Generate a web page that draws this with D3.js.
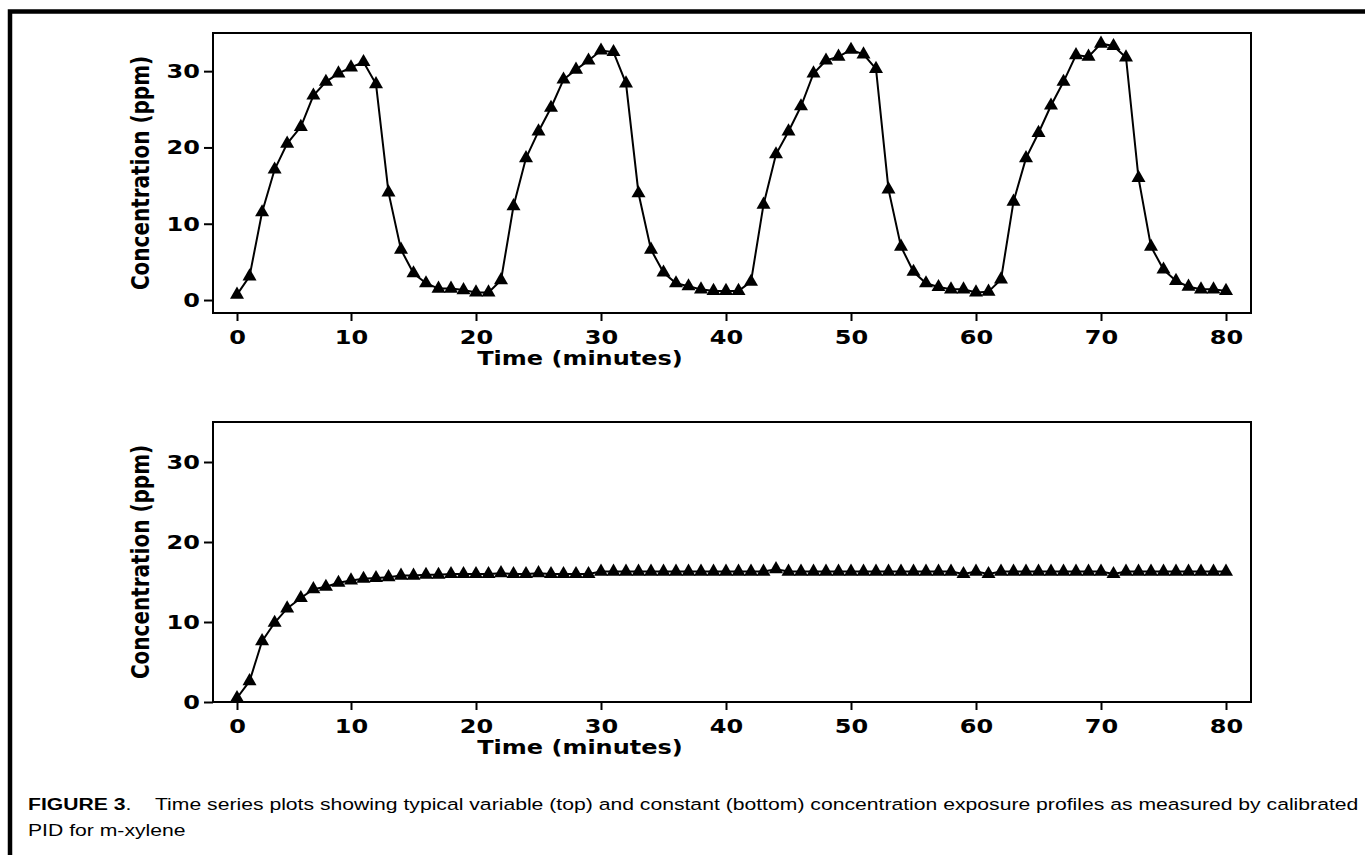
<!DOCTYPE html>
<html>
<head>
<meta charset="utf-8">
<script src="https://cdn.jsdelivr.net/npm/d3@7"></script>
<style>
  body { margin: 0; background: #fff; }
  svg { display: block; }
</style>
</head>
<body>
<svg width="1365" height="855"></svg>
<script>
// sample times (minutes)
var minutes = [0, 1.1, 2.2, 3.3, 4.4, 5.6, 6.7, 7.8, 8.9,
  10, 11, 12, 13, 14, 15, 16, 17, 18, 19, 20, 21, 22, 23, 24, 25, 26, 27, 28, 29, 30,
  31, 32, 33, 34, 35, 36, 37, 38, 39, 40, 41, 42, 43, 44, 45, 46, 47, 48, 49, 50,
  51, 52, 53, 54, 55, 56, 57, 58, 59, 60, 61, 62, 63, 64, 65, 66, 67, 68, 69, 70,
  71, 72, 73, 74, 75, 76, 77, 78, 79, 80];

// top panel: variable exposure (ppm)
var variableConc = [0.7, 3.1, 11.5, 17.1, 20.5, 22.7, 26.8, 28.6, 29.7, 30.5,
  31.2, 28.3, 14.1, 6.6, 3.5, 2.2, 1.5, 1.5, 1.3, 1.0,
  1.0, 2.6, 12.3, 18.6, 22.1, 25.2, 28.9, 30.2, 31.4, 32.7,
  32.5, 28.4, 14.0, 6.6, 3.6, 2.2, 1.8, 1.4, 1.2, 1.2,
  1.2, 2.4, 12.5, 19.1, 22.1, 25.4, 29.7, 31.4, 31.9, 32.8,
  32.2, 30.3, 14.5, 7.0, 3.7, 2.2, 1.7, 1.4, 1.4, 1.0,
  1.1, 2.7, 12.9, 18.6, 21.9, 25.5, 28.6, 32.1, 31.9, 33.6,
  33.3, 31.8, 16.0, 7.0, 4.0, 2.5, 1.75, 1.4, 1.4, 1.2];

// bottom panel: constant exposure (ppm)
var constantConc = [0.5, 2.6, 7.6, 9.9, 11.7, 13.0, 14.1, 14.4, 14.9, 15.2,
  15.4, 15.5, 15.6, 15.8, 15.8, 15.9, 15.9, 16.0, 16.0, 16.0,
  16.0, 16.1, 16.0, 16.0, 16.1, 16.0, 16.0, 16.0, 16.0, 16.3,
  16.3, 16.3, 16.3, 16.3, 16.3, 16.3, 16.3, 16.3, 16.3, 16.3,
  16.3, 16.3, 16.3, 16.6, 16.3, 16.3, 16.3, 16.3, 16.3, 16.3,
  16.3, 16.3, 16.3, 16.3, 16.3, 16.3, 16.3, 16.3, 16.0, 16.3,
  16.0, 16.3, 16.3, 16.3, 16.3, 16.3, 16.3, 16.3, 16.3, 16.3,
  16.0, 16.3, 16.3, 16.3, 16.3, 16.3, 16.3, 16.3, 16.3, 16.3];

var xTicks = [0, 10, 20, 30, 40, 50, 60, 70, 80];
var yTicks = [0, 10, 20, 30];
var xTitle = "Time (minutes)";
var yTitle = "Concentration (ppm)";

var svg = d3.select("svg");
var axisFont = "'DejaVu Sans', Verdana, sans-serif";
var capFont = "'Liberation Sans', Arial, Helvetica, sans-serif";
var stretch = 1.2; // the source scan is a little wider than tall, text included

// outer frame (only top and left edges fall inside the picture)
svg.append("path")
  .attr("d", "M10,855V11.5H1365")
  .attr("fill", "none")
  .attr("stroke", "#000")
  .attr("stroke-width", 4.5);

// the original x axis is slightly compressed between 0 and 10
var x = d3.scaleLinear().domain([0, 10, 80]).range([237, 351, 1226]);

function boldText(sel) {
  sel.attr("fill", "#000")
    .style("font-family", axisFont)
    .style("font-weight", "bold")
    .style("font-size", "20px");
}

function panel(values, yDomain, top, bottom) {
  var y = d3.scaleLinear().domain(yDomain).range([bottom, top]);
  var g = svg.append("g");

  g.append("rect") //plot box
    .attr("x", 213)
    .attr("y", top)
    .attr("width", 1251 - 213)
    .attr("height", bottom - top)
    .attr("fill", "none")
    .attr("stroke", "#000")
    .attr("stroke-width", 2);

  var xAxis = g.append("g")
    .attr("transform", "translate(0," + bottom + ")")
    .call(d3.axisBottom(x).tickValues(xTicks).tickSize(8).tickPadding(9).tickSizeOuter(0));

  var yAxis = g.append("g")
    .attr("transform", "translate(213,0)")
    .call(d3.axisLeft(y).tickValues(yTicks).tickSize(9).tickPadding(4).tickSizeOuter(0));

  [xAxis, yAxis].forEach(function (a) {
    a.select(".domain").remove();
    a.selectAll(".tick line").attr("stroke", "#000").attr("stroke-width", 2);
    a.selectAll(".tick text")
      .call(boldText)
      .attr("transform", "scale(" + stretch + ",1)");
  });
  yAxis.selectAll(".tick text").attr("x", -13 / stretch);

  g.append("text") //x title
    .attr("transform", "translate(580," + (bottom + 52) + ") scale(" + stretch + ",1)")
    .attr("text-anchor", "middle")
    .call(boldText)
    .text(xTitle);

  g.append("text") //y title
    .attr("transform", "translate(149," + (top + bottom) / 2 + ") scale(" + stretch + ",1) rotate(-90)")
    .attr("text-anchor", "middle")
    .call(boldText)
    .text(yTitle);

  var pts = minutes.map(function (m, i) { return { t: m, v: values[i] }; });

  g.append("path")
    .datum(pts)
    .attr("fill", "none")
    .attr("stroke", "#000")
    .attr("stroke-width", 2)
    .attr("d", d3.line().x(function (d) { return x(d.t); }).y(function (d) { return y(d.v); }));

  g.selectAll(".marker")
    .data(pts)
    .enter()
    .append("path")
    .attr("class", "marker")
    .attr("transform", function (d) { return "translate(" + x(d.t) + "," + y(d.v) + ")"; })
    .attr("d", d3.symbol().type(d3.symbolTriangle).size(85))
    .attr("fill", "#000");
}

panel(variableConc, [-1.7, 35], 33, 313);
panel(constantConc, [0, 35], 422, 702);

// caption
var cap = svg.append("text")
  .attr("transform", "translate(28,810) scale(1.245,1)")
  .style("font-family", capFont)
  .style("font-size", "17px")
  .attr("fill", "#000");
cap.append("tspan").style("font-weight", "bold").text("FIGURE 3");
cap.append("tspan").text(".\u00a0\u00a0\u00a0\u00a0Time series plots showing typical variable (top) and constant (bottom) concentration exposure profiles as measured by calibrated");

svg.append("text")
  .attr("transform", "translate(28,836) scale(1.245,1)")
  .style("font-family", capFont)
  .style("font-size", "17px")
  .attr("fill", "#000")
  .text("PID for m-xylene");
</script>
</body>
</html>
